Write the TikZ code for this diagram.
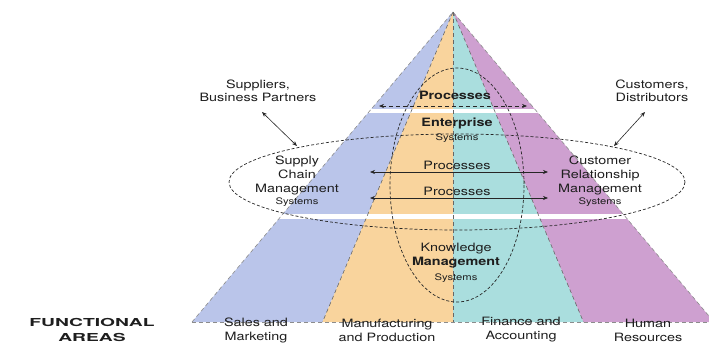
\documentclass[tikz,border=0pt]{standalone}
\usepackage{fontspec}
\setmainfont{TeX Gyre Heros}[FakeStretch=1.25]
\newfontfamily\widefont{TeX Gyre Heros}[FakeStretch=1.75]
\usetikzlibrary{arrows.meta}
\definecolor{cblue}{RGB}{186,197,234}
\definecolor{corange}{RGB}{249,212,157}
\definecolor{ccyan}{RGB}{170,222,222}
\definecolor{cpink}{RGB}{206,160,208}
\definecolor{ctext}{RGB}{30,30,30}
\tikzset{
  lbl/.style={font=\fontsize{11.5}{14}\selectfont, align=center, inner sep=0pt, text=ctext},
  sml/.style={font=\fontsize{9}{12}\selectfont, align=center, inner sep=0pt, text=ctext},
  edgeline/.style={draw=black!45, dash pattern=on 4pt off 3pt, line width=0.6pt},
  divline/.style={draw=black!60, dash pattern=on 4pt off 3pt, line width=0.6pt},
  ell/.style={draw=black!85, dash pattern=on 3pt off 2pt, line width=0.7pt},
  tip/.style={{Stealth[length=5pt,width=4pt]}-{Stealth[length=5pt,width=4pt]}, draw=black!85, line width=0.6pt},
}
\begin{document}
\begin{tikzpicture}[x=1pt,y=-1pt]
\path[use as bounding box] (0,0) rectangle (709,356);
% pyramid coordinates
\coordinate (A) at (453,12);
\coordinate (B0) at (192,322);
\coordinate (B1) at (322.5,322);
\coordinate (B2) at (453,322);
\coordinate (B3) at (583.5,322);
\coordinate (B4) at (714,322);
\fill[cblue] (A) -- (B0) -- (B1) -- cycle;
\fill[corange] (A) -- (B1) -- (B2) -- cycle;
\fill[ccyan] (A) -- (B2) -- (B3) -- cycle;
\fill[cpink] (A) -- (B3) -- (B4) -- cycle;
\begin{scope}
\clip (A) -- (B0) -- (B4) -- cycle;
\fill[white] (150,109) rectangle (720,113);
\fill[white] (150,214) rectangle (720,219);
\end{scope}
\draw[edgeline] (B0) -- (A) -- (B4);
\draw[edgeline] (B0) -- (B4);
\draw[divline] (A) -- (B1);
\draw[divline] (A) -- (B2);
\draw[divline] (A) -- (B3);
% ellipses
\draw[ell] (457,182) ellipse [x radius=228, y radius=48];
\draw[ell] (457,185) ellipse [x radius=67, y radius=117];
% process arrows
\coordinate (p1l) at (379,106); \coordinate (p1r) at (527,106);
\coordinate (p2l) at (370,172); \coordinate (p2r) at (548,172);
\coordinate (p3l) at (370,198); \coordinate (p3r) at (548,198);
\draw[tip, dash pattern=on 4pt off 3pt] (p1l) -- (p1r);
\draw[tip] (p2l) -- (p2r);
\draw[tip] (p3l) -- (p3r);
% labels
\node[lbl, font=\fontsize{11.5}{14}\selectfont\bfseries] (proc1) at (455,95) {Processes};
\node[lbl] (ent) at (457,123) {\bfseries Enterprise};
\node[sml] (entsys) at (457,138.5) {Systems};
\node[lbl] (proc2) at (457,165) {Processes};
\node[lbl] (proc3) at (457,191) {Processes};
\node[lbl] (kms) at (456,256) {Knowledge\\\bfseries Management};
\node[sml] (kmssys) at (456,278) {Systems};
\node[lbl] (scm) at (297,175) {Supply\\Chain\\Management};
\node[sml] (scmsys) at (297,202) {Systems};
\node[lbl] (crm) at (600,175) {Customer\\Relationship\\Management};
\node[sml] (crmsys) at (600,202) {Systems};
\node[lbl, font=\fontsize{11.5}{13}\selectfont] (sup) at (258,91) {Suppliers,\\Business Partners};
\node[lbl, font=\fontsize{11.5}{13}\selectfont] (cus) at (652,91) {Customers,\\Distributors};
% external arrows
\coordinate (supa) at (262,112);
\coordinate (cusa) at (645,112);
\coordinate (scmtop) at (297,146);
\coordinate (crmtop) at (614,146);
\draw[tip] (supa) -- (scmtop);
\draw[tip] (cusa) -- (crmtop);
% functional areas
\node[inner sep=0pt, align=center, font=\widefont\bfseries\fontsize{11}{15}\selectfont, text=ctext] (fa) at (92,330) {FUNCTIONAL\\AREAS};
\node[lbl] (sm) at (256,330) {Sales and\\Marketing};
\node[lbl] (mp) at (387,330) {Manufacturing\\and Production};
\node[lbl] (fin) at (521,330) {Finance and\\Accounting};
\node[lbl] (hr) at (648,330) {Human\\Resources};
\end{tikzpicture}
\end{document}
